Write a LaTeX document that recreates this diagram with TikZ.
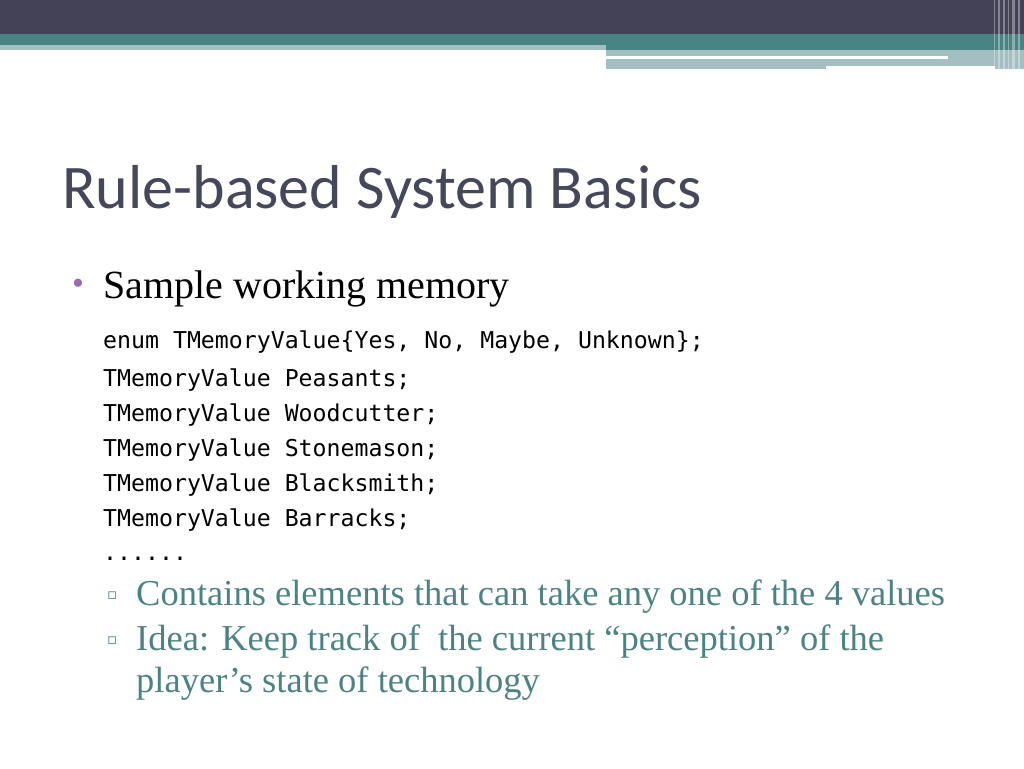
\documentclass[tikz,border=0pt]{standalone}
\usepackage{fontspec}
\setmainfont{Liberation Serif}
\newfontfamily\titlefont{Carlito}
\newfontfamily\codefont{DejaVu Sans Mono}
\newfontfamily\symfont{DejaVu Sans}
\definecolor{barDark}{HTML}{434256}
\definecolor{barTeal}{HTML}{4A8384}
\definecolor{barLight}{HTML}{A3BFC1}
\definecolor{titleGrey}{HTML}{45475A}
\definecolor{subTeal}{HTML}{4D8283}
\definecolor{dotPurple}{HTML}{9A6BB0}
\tikzset{
  codeline/.style={anchor=base west,inner sep=0pt,font=\codefont\fontsize{23.2}{26}\selectfont},
  subitem/.style={anchor=base west,inner sep=0pt,text=subTeal,font=\fontsize{36.5}{40}\selectfont},
  marker/.style={anchor=base west,inner sep=0pt}
}
\begin{document}
\begin{tikzpicture}[x=1pt,y=-1pt]
\useasboundingbox[fill=white] (0,0) rectangle (1024,768);
% header bars
\fill[barDark] (0,0) rectangle (1024,34);
\fill[barTeal] (0,34) rectangle (1024,50);
\fill[barLight] (0,45) rectangle (606,50);
\fill[barLight] (606,50) rectangle (1024,69);
\fill[white] (606,56) rectangle (948,58.5);
\fill[white] (826,66) rectangle (995,69);
\foreach \x/\w in {994/1,998/1.5,1003/2,1008/1,1012/2.5,1018/1.5}
  \fill[white,opacity=0.35] (\x,0) rectangle ({\x+\w},69);
% title
\node[anchor=base west,inner sep=0pt,text=titleGrey,font=\titlefont\fontsize{62}{66}\selectfont] (title) at (62,208) {Rule-based System Basics};
% main bullet
\node[marker,text=dotPurple,font=\fontsize{34}{36}\selectfont] (dot) at (72,294) {\textbullet};
\node[anchor=base west,inner sep=0pt,font=\fontsize{40}{44}\selectfont] (head) at (103,298) {Sample working memory};
% code
\node[codeline] (c1) at (103,348) {enum TMemoryValue\{Yes, No, Maybe, Unknown\};};
\node[codeline] (c2) at (103,386) {TMemoryValue Peasants;};
\node[codeline] (c3) at (103,421) {TMemoryValue Woodcutter;};
\node[codeline] (c4) at (103,456) {TMemoryValue Stonemason;};
\node[codeline] (c5) at (103,491) {TMemoryValue Blacksmith;};
\node[codeline] (c6) at (103,526) {TMemoryValue Barracks;};
\node[codeline] (c7) at (103,560) {......};
% sub bullets
\node[marker,text=subTeal,font=\symfont\fontsize{15}{16}\selectfont] (m1) at (107,599) {▫};
\node[subitem] (s1) at (136,605) {Contains elements that can take any one of the 4 values};
\node[marker,text=subTeal,font=\symfont\fontsize{15}{16}\selectfont] (m2) at (107,644) {▫};
\node[subitem] (s2) at (136,650) {Idea: Keep track of \ the current “perception” of the};
\node[subitem] (s3) at (136,692) {player’s state of technology};
\end{tikzpicture}
\end{document}
